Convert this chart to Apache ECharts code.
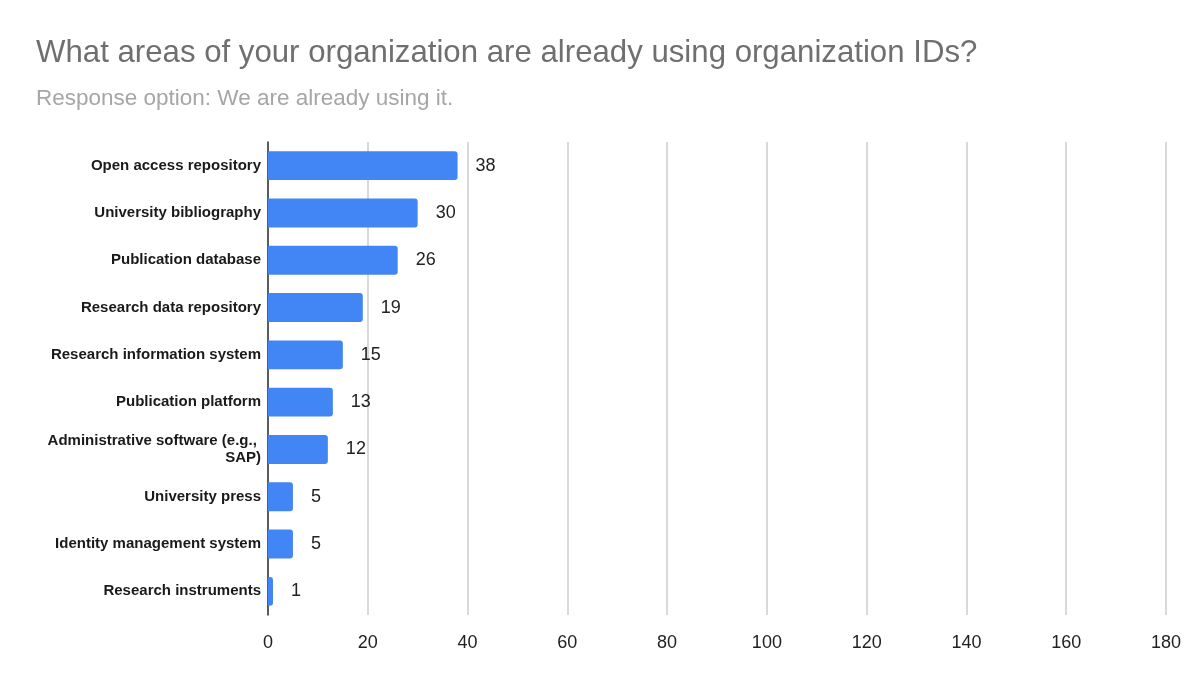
<!DOCTYPE html>
<html>
<head>
<meta charset="utf-8">
<script src="https://cdn.jsdelivr.net/npm/echarts@6/dist/echarts.min.js"></script>
<style>
  html, body { margin: 0; padding: 0; background: #fff; }
  #main { width: 1200px; height: 674px; }
</style>
</head>
<body>
<div id="main"></div>
<script>
// survey answers, top to bottom
const categories = [
  'Open access repository',
  'University bibliography',
  'Publication database',
  'Research data repository',
  'Research information system',
  'Publication platform',
  'Administrative software (e.g., SAP)',
  'University press',
  'Identity management system',
  'Research instruments'
];
const counts = [38, 30, 26, 19, 15, 13, 12, 5, 5, 1];

const chart = echarts.init(document.getElementById('main'));
chart.setOption({
  animation: false,
  textStyle: { fontFamily: 'Liberation Sans, Arial, sans-serif' },
  title: [{
    text: 'What areas of your organization are already using organization IDs?',
    left: 31,
    top: 33,
    textStyle: { fontSize: 31.2, fontWeight: 'normal', color: '#6f6f6f' }
  }, {
    text: 'Response option: We are already using it.',
    left: 31,
    top: 82,
    textStyle: { fontSize: 22.5, fontWeight: 'normal', color: '#a6a6a6' }
  }],
  grid: { left: 268, right: 34, top: 142, bottom: 59, containLabel: false },
  xAxis: {
    type: 'value',
    min: 0,
    max: 180,
    interval: 20,
    axisLine: { show: false },
    axisTick: { show: false },
    axisLabel: { color: '#222', fontSize: 18, margin: 19 },
    splitLine: { lineStyle: { color: '#cccccc', width: 1.5 } }
  },
  yAxis: {
    type: 'category',
    inverse: true,
    data: categories,
    axisLine: { show: true, lineStyle: { color: '#333', width: 1.5 } },
    axisTick: { show: false },
    axisLabel: {
      color: '#1a1a1a',
      fontSize: 15,
      fontWeight: 'bold',
      margin: 7,
      width: 225,
      overflow: 'break',
      lineHeight: 17,
      align: 'right'
    }
  },
  series: [{
    type: 'bar',
    data: counts,
    barWidth: '61%',
    itemStyle: { color: '#4285f4', borderRadius: [0, 3, 3, 0] },
    label: {
      show: true,
      position: 'right',
      distance: 18,
      color: '#222',
      fontSize: 18
    }
  }]
});
</script>
</body>
</html>
